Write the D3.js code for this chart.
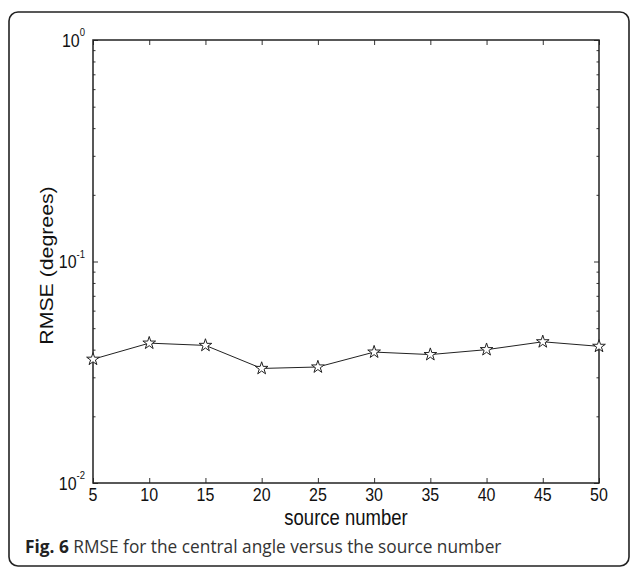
<!DOCTYPE html>
<html>
<head>
<meta charset="utf-8">
<script src="https://cdn.jsdelivr.net/npm/d3@7"></script>
<style>
  html, body { margin: 0; padding: 0; background: #fff; }
  svg { display: block; }
</style>
</head>
<body>
<div id="chart"></div>
<script>
// RMSE vs number of sources, log y axis (MATLAB style figure with caption)

const sourceNumbers = [5, 10, 15, 20, 25, 30, 35, 40, 45, 50];
const rmseValues = [0.0362, 0.0428, 0.0418, 0.0329, 0.0334, 0.0390, 0.0380, 0.0400, 0.0434, 0.0414];
const xTicks = [5, 10, 15, 20, 25, 30, 35, 40, 45, 50];
const yDecades = [1, 0.1, 0.01];
const yDecadeExps = ["0", "-1", "-2"];
const yMinor = [0.02, 0.03, 0.04, 0.05, 0.06, 0.07, 0.08, 0.09, 0.2, 0.3, 0.4, 0.5, 0.6, 0.7, 0.8, 0.9];

const W = 630, H = 567;
const margin = { left: 93, right: 31, top: 40, bottom: 84 };
const innerW = W - margin.left - margin.right;
const innerH = H - margin.top - margin.bottom;
const stretch = 1.15; // the figure's lettering is a little taller than wide

const svg = d3.select("#chart").append("svg")
  .attr("width", W).attr("height", H);

// outer rounded frame (partly off page on right/bottom)
svg.append("rect")
  .attr("x", 9).attr("y", 12)
  .attr("width", 620).attr("height", 554)
  .attr("rx", 9)
  .attr("fill", "none")
  .attr("stroke", "#222")
  .attr("stroke-width", 1.6);

const g = svg.append("g").attr("transform", `translate(${margin.left},${margin.top})`);

const x = d3.scaleLinear().domain([5, 50]).range([0, innerW]);
const y = d3.scaleLog().domain([0.01, 1]).range([innerH, 0]);

const axisFont = "'Liberation Sans', Arial, Helvetica, sans-serif";

// ticks pointing inward on all four sides
function styleTicks(sel) {
  sel.select(".domain").remove();
  sel.selectAll("line").attr("stroke", "#333").attr("stroke-width", 1);
  sel.selectAll("text").remove();
}

g.append("g").attr("transform", `translate(0,${innerH})`)
  .call(d3.axisBottom(x).tickValues(xTicks).tickSize(-5)).call(styleTicks);
g.append("g")
  .call(d3.axisTop(x).tickValues(xTicks).tickSize(-5)).call(styleTicks);
g.append("g")
  .call(d3.axisLeft(y).tickValues(yMinor).tickSize(-2.5)).call(styleTicks);
g.append("g").attr("transform", `translate(${innerW},0)`)
  .call(d3.axisRight(y).tickValues(yMinor).tickSize(-2.5)).call(styleTicks);
g.append("g")
  .call(d3.axisLeft(y).tickValues(yDecades).tickSize(-5)).call(styleTicks);
g.append("g").attr("transform", `translate(${innerW},0)`)
  .call(d3.axisRight(y).tickValues(yDecades).tickSize(-5)).call(styleTicks);

// box
g.append("rect")
  .attr("width", innerW).attr("height", innerH)
  .attr("fill", "none")
  .attr("stroke", "#222")
  .attr("stroke-width", 1.5);

// x tick labels
g.selectAll("text.xlab").data(xTicks).enter()
  .append("text")
  .attr("class", "xlab")
  .attr("transform", d => `translate(${x(d)},${innerH + 17.5}) scale(1,${stretch})`)
  .attr("text-anchor", "middle")
  .attr("font-family", axisFont)
  .attr("font-size", 16)
  .attr("fill", "#111")
  .text(d => d);

// y decade labels with superscript exponent
const ylab = g.selectAll("text.ylab").data(yDecades).enter()
  .append("text")
  .attr("class", "ylab")
  .attr("transform", d => `translate(-8,${y(d) + 6.5}) scale(1,${stretch})`)
  .attr("text-anchor", "end")
  .attr("font-family", axisFont)
  .attr("font-size", 16)
  .attr("fill", "#111");
ylab.append("tspan").text("10");
ylab.append("tspan")
  .attr("dy", -8.7)
  .attr("font-size", 9.5)
  .text((d, i) => yDecadeExps[i]);

// axis titles
g.append("text")
  .attr("transform", `translate(${innerW / 2},${innerH + 41.5}) scale(1,${stretch})`)
  .attr("text-anchor", "middle")
  .attr("font-family", axisFont)
  .attr("font-size", 18.5)
  .attr("fill", "#111")
  .text("source number");

g.append("text")
  .attr("transform", `translate(${-40},${innerH / 2 + 4}) scale(1,${stretch}) rotate(-90)`)
  .attr("text-anchor", "middle")
  .attr("font-family", axisFont)
  .attr("font-size", 18.5)
  .attr("fill", "#111")
  .text("RMSE (degrees)");

// data line
const line = d3.line()
  .x((d, i) => x(sourceNumbers[i]))
  .y(d => y(d));

g.append("path")
  .datum(rmseValues)
  .attr("fill", "none")
  .attr("stroke", "#222")
  .attr("stroke-width", 1)
  .attr("d", line);

g.selectAll("path.star").data(rmseValues).enter()
  .append("path")
  .attr("class", "star")
  .attr("d", d3.symbol().type(d3.symbolStar).size(50)())
  .attr("transform", (d, i) => `translate(${x(sourceNumbers[i])},${y(d)})`)
  .attr("fill", "#fff")
  .attr("stroke", "#222")
  .attr("stroke-width", 1);

// figure caption
const cap = svg.append("text")
  .attr("x", 25)
  .attr("y", 553)
  .attr("font-family", "'Open Sans', 'Noto Sans', sans-serif")
  .attr("font-size", 17.3)
  .attr("fill", "#333");
cap.append("tspan").attr("font-weight", "bold").attr("fill", "#222").text("Fig. 6");
cap.append("tspan").text(" RMSE for the central angle versus the source number");
</script>
</body>
</html>
